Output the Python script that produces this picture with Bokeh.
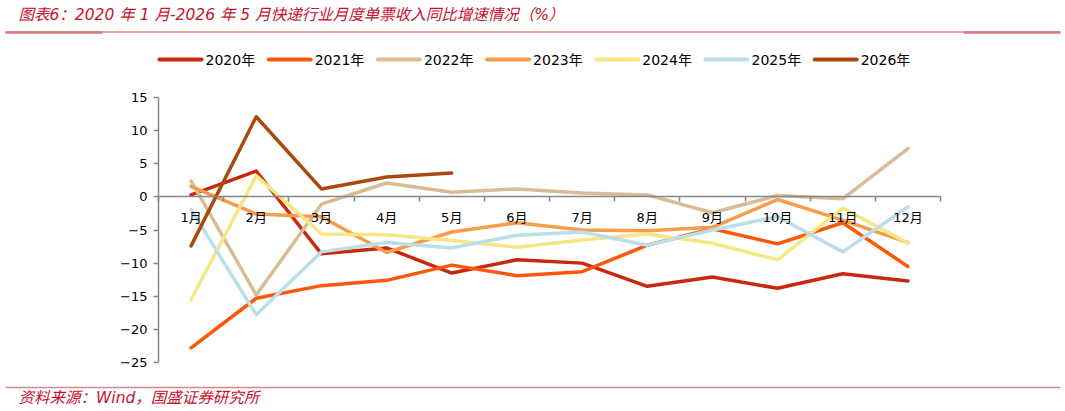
from bokeh.plotting import figure
from bokeh.models import Range1d, LinearAxis, FixedTicker
from bokeh.core.properties import value
from bokeh.embed import file_html
from bokeh.resources import INLINE

# data (%)
months = ["1月", "2月", "3月", "4月", "5月", "6月", "7月", "8月", "9月", "10月", "11月", "12月"]
years = ["2020年", "2021年", "2022年", "2023年", "2024年", "2025年", "2026年"]
y2020 = [0.3, 3.9, -8.6, -7.7, -11.5, -9.5, -10.0, -13.5, -12.1, -13.8, -11.6, -12.7]
y2021 = [-22.8, -15.3, -13.4, -12.6, -10.3, -11.9, -11.3, -7.3, -4.8, -7.1, -3.9, -10.5]
y2022 = [2.4, -14.8, -1.1, 2.1, 0.7, 1.2, 0.6, 0.3, -2.4, 0.2, -0.3, 7.3]
y2023 = [1.6, -2.6, -3.0, -8.4, -5.3, -3.9, -5.0, -5.1, -4.6, -0.4, -3.5, -6.9]
y2024 = [-15.5, 3.2, -5.6, -5.7, -6.6, -7.6, -6.5, -5.6, -7.0, -9.5, -1.7, -7.0]
y2025 = [-1.9, -17.8, -8.3, -6.9, -7.7, -5.8, -5.3, -7.3, -5.0, -3.0, -8.3, -1.5]
y2026 = [-7.4, 12.1, 1.2, 3.0, 3.6]
y_ticks = [-25, -20, -15, -10, -5, 0, 5, 10, 15]

series = [y2020, y2021, y2022, y2023, y2024, y2025, y2026]
colors = ["#C8290C", "#FF5709", "#D7BC94", "#F89B4B", "#F6E784", "#B9DFE9", "#A94A0C"]

title = "图表6：2020 年 1 月-2026 年 5 月快递行业月度单票收入同比增速情况（%）"
source_note = "资料来源：Wind，国盛证券研究所"

W, H = 1065, 411
FONT = "DejaVu Sans, Noto Sans CJK SC"
RED = "#C8102E"
AXIS = "#868686"

# plot area in page pixels: months 0.5..12.5 -> x 158..940, values -25..15 -> y 362..97
def dx(px):
    return 0.5 + (px - 158) * 12.0 / (940 - 158)

def dy(py):
    return 15 + (97 - py) * 40.0 / (362 - 97)

# one canvas: the frame covers the whole page, axes sit at fixed places
p = figure(width=W, height=H, x_range=Range1d(dx(0), dx(W)), y_range=Range1d(dy(H), dy(0)),
           output_backend="svg", toolbar_location=None, tools="",
           x_axis_location=None, y_axis_location=None, min_border=0,
           outline_line_color=None, background_fill_color="white")
p.grid.grid_line_color = None

yax = LinearAxis(fixed_location=0.5, bounds=(-25, 15), ticker=FixedTicker(ticks=y_ticks),
                 axis_line_color=AXIS, axis_line_width=1.5,
                 major_tick_line_color=AXIS, major_tick_line_width=1.5, major_tick_out=5, major_tick_in=0,
                 minor_tick_line_color=None, major_label_text_font=FONT,
                 major_label_text_font_size="13px", major_label_text_color="black",
                 major_label_standoff=6)
p.add_layout(yax, "left")

xpos = list(range(1, len(months) + 1))
xax = LinearAxis(fixed_location=0, bounds=(0.5, 12.5),
                 ticker=FixedTicker(ticks=xpos, minor_ticks=[x - 0.5 for x in xpos] + [12.5]),
                 major_label_overrides={x: m for x, m in zip(xpos, months)},
                 axis_line_color=AXIS, axis_line_width=1.5,
                 major_tick_line_color=None, major_tick_out=0, major_tick_in=0,
                 minor_tick_line_color=AXIS, minor_tick_line_width=1.5, minor_tick_out=5, minor_tick_in=0,
                 major_label_text_font=FONT, major_label_text_font_size="13px",
                 major_label_text_color="black", major_label_standoff=8)
p.add_layout(xax, "below")

for vals, c in zip(series, colors):
    p.line(xpos[:len(vals)], vals, line_color=c, line_width=3.5, line_join="round", line_cap="round")

# title and red rule
p.text(x=[dx(18)], y=[dy(14)], text=[title], text_font=value(FONT), text_font_style="italic",
       text_font_size="15.5px", text_color=RED, text_baseline="middle")
p.segment(x0=[dx(5)], y0=[dy(31.5)], x1=[dx(1060)], y1=[dy(31.5)], line_color="#C9565A", line_width=1)
p.segment(x0=[dx(5), dx(963)], y0=[dy(32)] * 2, x1=[dx(102), dx(1060)], y1=[dy(32)] * 2,
          line_color="#D77B7E", line_width=2.5)

# legend
step = 109.2
lx = [159 + step * i for i in range(len(years))]
p.segment(x0=[dx(x) for x in lx], y0=[dy(59)] * len(years), x1=[dx(x + 42) for x in lx],
          y1=[dy(59)] * len(years), line_color=colors, line_width=4, line_cap="round")
p.text(x=[dx(x + 46) for x in lx], y=[dy(59)] * len(years), text=years, text_font=value(FONT),
       text_font_size="14px", text_color="black", text_baseline="middle")

# source rule and note
p.segment(x0=[dx(5)], y0=[dy(387)], x1=[dx(1060)], y1=[dy(387)], line_color="#D9898C", line_width=1.5)
p.text(x=[dx(18)], y=[dy(397.5)], text=[source_note], text_font=value(FONT), text_font_style="italic",
       text_font_size="15.5px", text_color=RED, text_baseline="middle")

open("out.html", "w").write(file_html(p, INLINE))
